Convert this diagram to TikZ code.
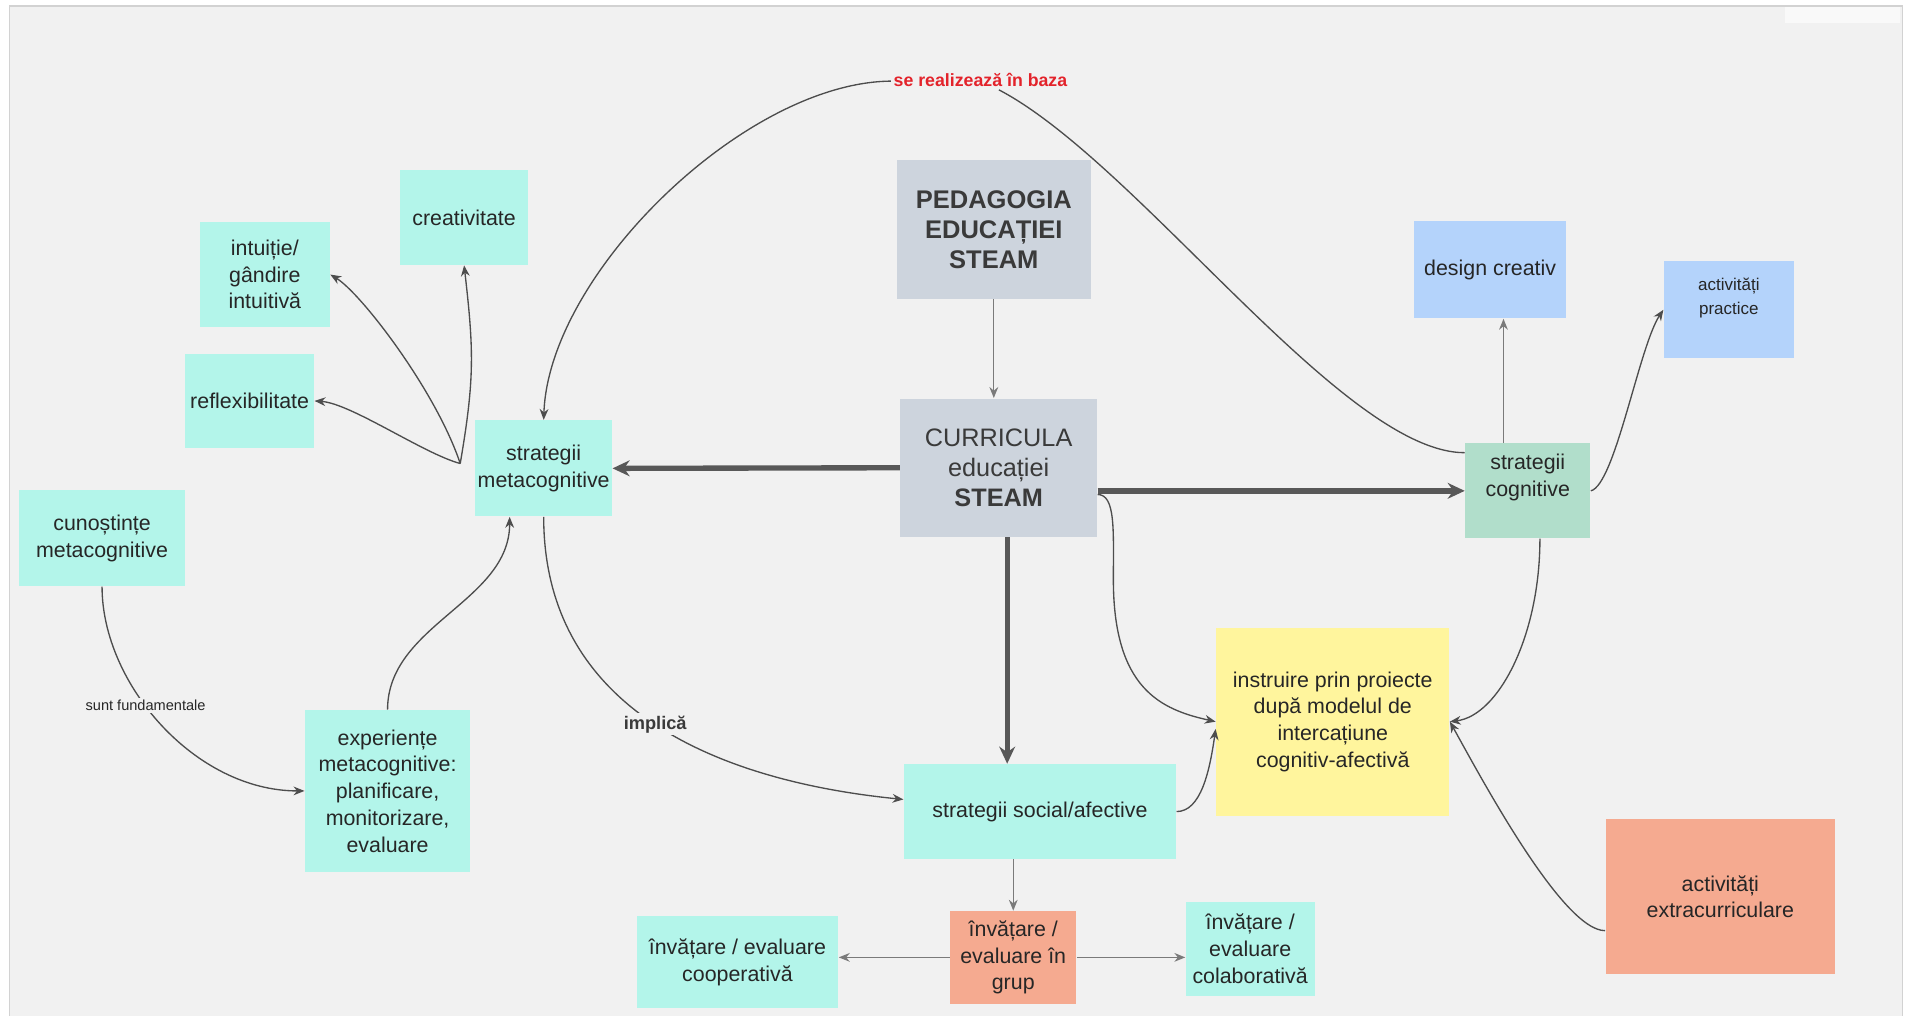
\documentclass[tikz,border=0pt]{standalone}
\usepackage{fontspec}
\setmainfont{Liberation Sans}
\usetikzlibrary{arrows.meta,calc}
\definecolor{bgc}{HTML}{F1F1F1}
\definecolor{framec}{HTML}{D2D2D2}
\definecolor{cyanc}{HTML}{B3F5EA}
\definecolor{greyc}{HTML}{CDD4DD}
\definecolor{greenc}{HTML}{B1DECB}
\definecolor{bluec}{HTML}{B4D3FB}
\definecolor{yellowc}{HTML}{FFF59D}
\definecolor{salmonc}{HTML}{F5AA90}
\definecolor{txtc}{HTML}{262626}
\definecolor{darktxt}{HTML}{3A3A3A}
\definecolor{linec}{HTML}{4D4D4D}
\definecolor{thickc}{HTML}{585858}
\definecolor{lightlinec}{HTML}{7A7A7A}
\definecolor{redc}{HTML}{E3232B}
\begin{document}
\begin{tikzpicture}[x=0.5pt,y=-0.5pt,
  box/.style={rectangle, inner sep=1pt, align=center, text=txtc, font=\fontsize{8.8}{11}\selectfont},
  sz/.style 2 args={minimum width=#1*0.5pt, minimum height=#2*0.5pt},
  cyanbox/.style={box, fill=cyanc},
  greybox/.style={box, fill=greyc, text=darktxt},
  greenbox/.style={box, fill=greenc},
  bluebox/.style={box, fill=bluec},
  yellowbox/.style={box, fill=yellowc},
  salmonbox/.style={box, fill=salmonc},
  conn/.style={draw=linec, line width=0.55pt, -{Stealth[length=4.5pt,width=3.6pt]}},
  plainconn/.style={draw=linec, line width=0.55pt},
  lightconn/.style={conn, draw=lightlinec},
  bigconn/.style={draw=thickc, line width=2.2pt, -{Stealth[length=7pt,width=6.5pt]}},
  redlabel/.style={fill=bgc, inner sep=1pt, text=redc, font=\fontsize{7.3}{8}\selectfont\bfseries},
  graylabel/.style={fill=bgc, inner sep=1pt, text=darktxt, font=\fontsize{7.5}{8}\selectfont\bfseries},
  tinylabel/.style={fill=bgc, inner sep=1pt, text=txtc, font=\fontsize{6}{7}\selectfont}
]
\useasboundingbox (0,0) rectangle (1568,836);
\fill[white] (0,0) rectangle (1568,836);
\filldraw[fill=bgc, draw=framec, line width=0.6pt] (8,5) rectangle (1566,842);
\fill[white!60!bgc] (1469,6) rectangle (1564,19);

% nodes
\node[greybox, sz={160}{114}, font=\fontsize{10.5}{12.3}\selectfont\bfseries] (ped) at (818,189) {PEDAGOGIA\\EDUCAȚIEI\\STEAM};
\node[greybox, sz={162}{114}, font=\fontsize{10.4}{12.5}\selectfont] (cur) at (822,385) {CURRICULA\\educației\\\textbf{STEAM}};
\node[cyanbox, sz={105}{79}] (sm) at (447.5,385.5) {strategii\\metacognitive};
\node[cyanbox, sz={106}{78}] (cre) at (382,179) {creativitate};
\node[cyanbox, sz={107}{87}] (int) at (218,226) {intuiție/\\gândire\\intuitivă};
\node[cyanbox, sz={106}{78}] (ref) at (205.5,330) {reflexibilitate};
\node[cyanbox, sz={136}{79}] (cun) at (84,443) {cunoștințe\\metacognitive};
\node[cyanbox, sz={136}{133}] (exp) at (319,651) {experiențe\\metacognitive:\\planificare,\\monitorizare,\\evaluare};
\node[cyanbox, sz={224}{78}] (ssa) at (856,668) {strategii social/afective};
\node[salmonbox, sz={104}{76}] (grup) at (834,788) {învățare /\\evaluare în\\grup};
\node[cyanbox, sz={166}{76}] (coop) at (607,792) {învățare / evaluare\\cooperativă};
\node[cyanbox, sz={106}{77}] (colab) at (1029,781) {învățare /\\evaluare\\colaborativă};
\node[yellowbox, sz={192}{155}] (instr) at (1097,594) {instruire prin proiecte\\după modelul de\\intercațiune\\cognitiv-afectivă};
\node[salmonbox, sz={189}{127}] (extra) at (1416,738) {activități\\extracurriculare};
\node[greenbox, sz={103}{78}] (sc) at (1257.5,404) {strategii\\cognitive\\[2pt]};
\node[bluebox, sz={125}{80}] (des) at (1226.5,222) {design creativ};
\node[bluebox, sz={107}{80}, font=\fontsize{7}{10}\selectfont] (prac) at (1423,255) {activități\\practice\\[1pt]};
\node[redlabel] (lab) at (807,66) {se realizează în baza};

% straight connectors
\draw[lightconn] (ped.south) -- (ped.south |- cur.north);
\draw[bigconn] (cur.west) -- (sm.east);
\draw[bigconn] (cur.east |- sc.west) -- (sc.west);
\coordinate (cs) at ($(cur.south)+(7,0)$);
\draw[bigconn] (cs) -- (cs |- ssa.north);
\coordinate (scd) at ($(sc.north)+(-20,0)$);
\draw[lightconn] (scd) -- (scd |- des.south);
\draw[lightconn] (ssa.south -| grup.north) -- (grup.north);
\draw[lightconn] (grup.west) -- (grup.west -| coop.east);
\draw[lightconn] (grup.east) -- (grup.east -| colab.west);

% metacognitive fan
\coordinate (smx) at ($(sm.west)+(-12,-4)$);
\draw[conn] (smx) .. controls +(12,-70) and +(8,70) .. (cre.south);
\draw[conn] (smx) .. controls +(-20,-60) and +(25,15) .. (int.east);
\draw[conn] (smx) .. controls +(-30,-8) and +(30,2) .. (ref.east);

% big arc through label
\draw[plainconn] ($(sc.north west)+(0,8)$) .. controls +(-100,0) and +(130,68) .. (lab);
\draw[conn] (lab) .. controls +(-194,2) and +(4,-120) .. (sm.north);

% left side curves
\draw[conn] (cun.south) .. controls +(0,80) and +(-90,0) .. (exp.west)
  node[tinylabel, pos=0.42] {sunt fundamentale};
\draw[conn] (exp.north) .. controls +(0,-70) and +(0,70) .. ($(sm.south)+(-28,0)$);
\draw[conn] (sm.south) .. controls +(0,160) and +(-150,-15) .. ($(ssa.west)+(0,-10)$)
  node[graylabel, pos=0.5] {implică};

% into instruire
\coordinate (cstart) at ($(cur.east |- sc.west)+(0,3)$);
\coordinate (cbend) at ($(cur.east |- sc.west)+(13,73)$);
\draw[conn] (cstart) .. controls +(15,0) and +(0,-40) .. (cbend) .. controls +(0,90) and +(-45,-10) .. (instr.west);
\draw[conn] (ssa.east) .. controls +(20,0) and +(-5,35) .. ($(instr.west)+(0,6)$);
\draw[conn] ($(sc.south)+(10,0)$) .. controls +(0,80) and +(40,-5) .. (instr.east);
\draw[conn] ($(extra.west)+(0,28)$) .. controls +(-35,0) and +(25,45) .. (instr.east);

% cognitive to practice
\draw[conn] (sc.east) .. controls +(20,-5) and +(-20,30) .. (prac.west);
\end{tikzpicture}
\end{document}
